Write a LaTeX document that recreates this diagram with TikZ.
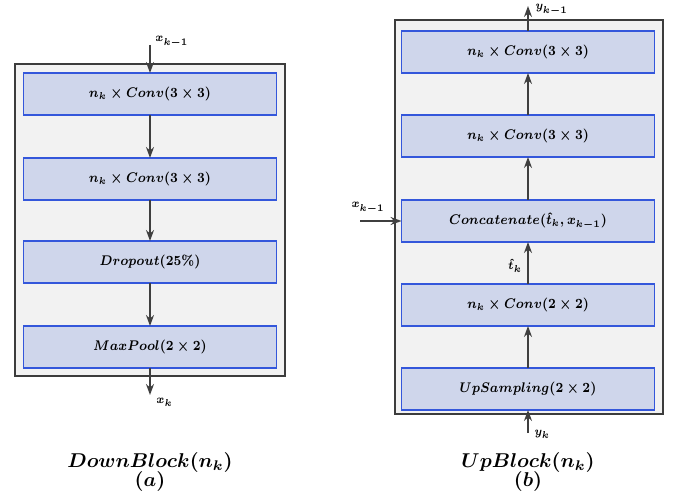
\documentclass[tikz,border=0pt]{standalone}
\usepackage{amsmath,graphicx}
\usetikzlibrary{positioning,arrows.meta}
\definecolor{blockfill}{HTML}{CFD6EB}
\definecolor{blockline}{HTML}{3457DB}
\definecolor{panelfill}{HTML}{F2F2F2}
\definecolor{panelline}{HTML}{3C3C3C}
\definecolor{arrowcol}{HTML}{3F3F3F}
% labels in the blocks are a bit narrow
\newcommand{\slim}[1]{\scalebox{0.86}[1]{$#1$}}
\tikzset{
  layer/.style={draw=blockline,fill=blockfill,line width=0.7pt,minimum width=126.5pt,
    minimum height=21pt,inner sep=0pt,outer sep=0pt,font=\fontsize{7}{8}\selectfont\boldmath},
  panel/.style={draw=panelline,fill=panelfill,line width=0.8pt},
  flow/.style={draw=arrowcol,line width=0.75pt,-{Stealth[length=5.5pt,width=4pt]}},
  tag/.style={font=\fontsize{5.8}{6}\selectfont\boldmath,inner sep=0pt},
  caption/.style={font=\fontsize{10.2}{12}\selectfont\boldmath,inner sep=0pt}
}
\begin{document}
\begin{tikzpicture}[x=0.5pt,y=-0.5pt]
    \useasboundingbox (0,0) rectangle (673,496);
    % (a) down block
    \draw[panel] (15,64) rectangle (285,376);
    \node[layer] (d1) at (150,94) {\slim{n_k\times Conv(3\times 3)}};
    \node[layer] (d2) at (150,179) {\slim{n_k\times Conv(3\times 3)}};
    \node[layer] (d3) at (150,262) {\slim{Dropout(25\%)}};
    \node[layer] (d4) at (150,347) {\slim{MaxPool(2\times 2)}};
    \coordinate (din) at (150,45);
    \coordinate (dout) at (150,395);
    \draw[flow] (din) -- (d1);
    \draw[flow] (d1) -- (d2);
    \draw[flow] (d2) -- (d3);
    \draw[flow] (d3) -- (d4);
    \draw[flow] (d4) -- (dout);
    \node[tag,anchor=west] at (155,42) {\slim{x_{k-1}}};
    \node[tag,anchor=west] at (156,402) {\slim{x_k}};
    \node[caption] (capa) at (150,462) {$DownBlock(n_k)$};
    \node[caption] at (150,481) {$(a)$};
    % (b) up block
    \draw[panel] (395,20) rectangle (663,414);
    \node[layer] (u5) at (528,389) {\slim{UpSampling(2\times 2)}};
    \node[layer] (u4) at (528,305) {\slim{n_k\times Conv(2\times 2)}};
    \node[layer] (u3) at (528,221) {\slim{Concatenate(\hat{t}_k,x_{k-1})}};
    \node[layer] (u2) at (528,136) {\slim{n_k\times Conv(3\times 3)}};
    \node[layer] (u1) at (528,52) {\slim{n_k\times Conv(3\times 3)}};
    \coordinate (uin) at (528,433);
    \coordinate (uout) at (528,6);
    \coordinate (skip) at (360,221);
    \draw[flow] (uin) -- (u5);
    \draw[flow] (u5) -- (u4);
    \draw[flow] (u4) -- (u3);
    \draw[flow] (u3) -- (u2);
    \draw[flow] (u2) -- (u1);
    \draw[flow] (u1) -- (uout);
    \draw[flow] (skip) -- (u3.west |- skip);
    \node[tag] at (515,266) {\slim{\hat{t}_k}};
    \node[tag,anchor=west] at (534,434) {\slim{y_k}};
    \node[tag,anchor=west] at (535,10) {\slim{y_{k-1}}};
    \node[tag] at (368,208) {\slim{x_{k-1}}};
    \node[caption] (capb) at (528,462) {$UpBlock(n_k)$};
    \node[caption] at (528,481) {$(b)$};
\end{tikzpicture}
\end{document}
